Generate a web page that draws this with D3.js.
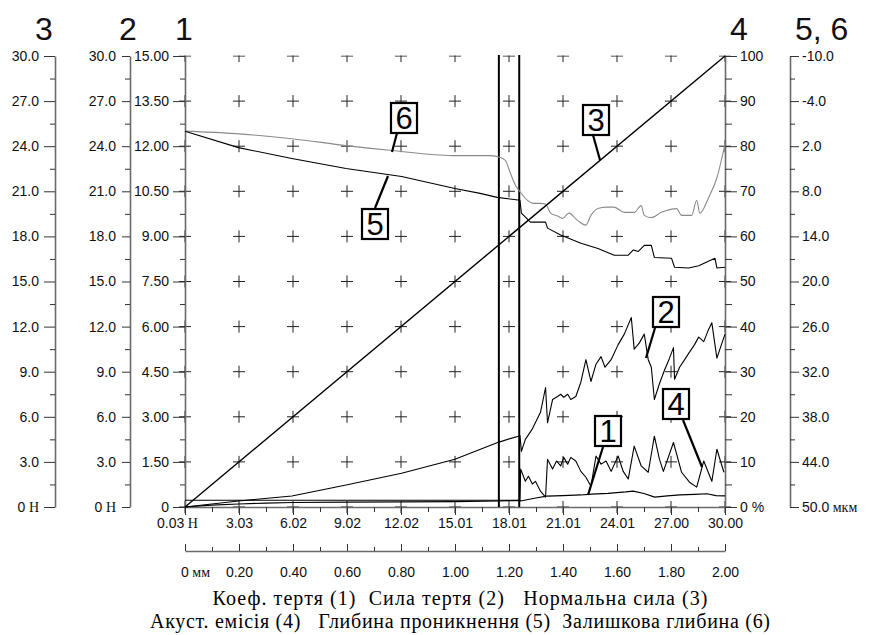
<!DOCTYPE html>
<html><head><meta charset="utf-8">
<script src="https://cdn.jsdelivr.net/npm/d3@7"></script>
<style>body{margin:0;background:#fff}svg{display:block}</style>
</head><body><svg id="c" width="870" height="635"></svg>
<script>
// ---------- DATA (x = normal force, Н) ----------
const normalForce = [[0.03,0],[30,30]];
const frictionForce = [[0.03,0],[3.0,0.4],[5.96,0.73],[8.97,1.46],[12.05,2.25],[15.01,3.18],[17.42,4.3],[18.08,4.55],[18.53,4.7],[18.62,4.75],[18.7,3.7],[18.92,4.5],[19.31,5.2],[19.76,6.3],[20.04,7.95],[20.15,5.6],[20.43,7.15],[20.71,7.35],[20.88,7.5],[21.05,7.3],[21.27,7.5],[21.44,7.15],[21.72,7.35],[22.0,8.3],[22.28,9.8],[22.56,8.35],[22.84,9.5],[23.12,10.0],[23.34,9.3],[23.68,9.8],[24.07,10.8],[24.41,11.5],[24.8,12.6],[24.96,10.5],[25.24,10.9],[25.52,11.5],[25.74,9.8],[25.91,9.3],[26.08,7.15],[26.36,8.2],[26.64,9.1],[26.92,9.9],[27.14,10.6],[27.2,8.5],[27.48,9.3],[27.76,9.8],[28.03,10.3],[28.31,10.8],[28.54,11.3],[28.82,11.0],[29.05,11.7],[29.27,12.25],[29.55,9.9],[29.83,10.9],[30.0,11.5]];
const frictionCoef = [[0.03,0],[1.5,0.06],[3.0,0.1],[4.5,0.13],[6.0,0.15],[9.0,0.16],[12.0,0.17],[15.0,0.18],[17.5,0.2],[18.6,0.22],[18.66,0.2],[19.5,0.3],[20.1,0.36],[21.0,0.38],[22.0,0.4],[22.6,0.43],[23.5,0.45],[24.5,0.5],[24.9,0.53],[25.5,0.45],[26.1,0.33],[26.8,0.37],[27.5,0.4],[28.3,0.42],[29.0,0.44],[29.5,0.38],[30.0,0.37]];
const acousticEmission = [[0.03,1.5],[18.62,1.5],[18.66,8.4],[18.92,5.7],[19.09,6.8],[19.31,5.1],[19.48,5.7],[19.76,3.5],[20.04,2.2],[20.15,10.6],[20.43,8.4],[20.65,10.2],[20.88,9.1],[21.05,11.0],[21.27,9.5],[21.44,11.0],[21.72,10.2],[22.0,7.9],[22.28,6.6],[22.56,4.6],[22.84,11.3],[23.12,9.5],[23.4,10.2],[23.68,7.9],[24.07,11.3],[24.35,7.9],[24.63,6.2],[24.96,13.5],[25.35,9.1],[25.74,7.7],[26.08,15.7],[26.36,10.6],[26.58,7.9],[27.14,14.3],[27.59,7.7],[28.03,5.5],[28.43,4.4],[28.82,10.2],[29.27,5.7],[29.55,12.8],[29.94,7.7]];
const penetrationDepth = [[0.03,0],[3.0,2.19],[5.96,3.64],[8.97,4.97],[12.05,6.03],[15.01,7.62],[16.41,8.28],[17.36,8.81],[18.62,9.2],[18.7,10.9],[19.2,12.1],[20.04,12.1],[20.15,12.9],[20.88,13.8],[22.0,14.9],[22.95,15.6],[23.85,16.5],[24.63,16.5],[24.91,15.8],[25.19,16.0],[25.52,15.2],[25.91,15.2],[26.08,16.8],[27.03,16.9],[27.2,18.1],[27.98,18.2],[28.54,17.9],[29.44,16.9],[29.55,18.2],[30.0,18.1]];
const residualDepth = [[0.03,0],[2.83,0.33],[5.96,1.0],[8.97,1.92],[11.54,2.58],[14.9,3.25],[16.97,3.25],[17.53,3.5],[17.81,3.9],[18.09,5.6],[18.37,7.2],[18.64,8.1],[19.04,9.2],[19.37,9.6],[19.76,9.6],[20.04,9.7],[20.32,10.9],[20.71,11.3],[20.99,11.6],[21.33,10.9],[21.83,11.9],[22.28,12.5],[22.56,11.2],[22.95,10.3],[23.4,10.1],[23.85,10.1],[24.41,10.8],[24.96,10.8],[25.35,9.9],[25.52,11.2],[25.91,11.5],[26.47,10.8],[27.31,10.3],[27.59,11.2],[28.15,11.2],[28.43,9.2],[28.6,10.9],[29.1,8.8],[29.55,6.2],[30.0,1.7]];
const markers = [17.45, 18.58];

const xTickLabels = ["0.03","3.03","6.02","9.02","12.02","15.01","18.01","21.01","24.01","27.00","30.00"];
const mmTickLabels = ["0","0.20","0.40","0.60","0.80","1.00","1.20","1.40","1.60","1.80","2.00"];
const axis1Labels = ["0","1.50","3.00","4.50","6.00","7.50","9.00","10.50","12.00","13.50","15.00"];
const axis2Labels = ["0","3.0","6.0","9.0","12.0","15.0","18.0","21.0","24.0","27.0","30.0"];
const axis3Labels = ["0","3.0","6.0","9.0","12.0","15.0","18.0","21.0","24.0","27.0","30.0"];
const axis4Labels = ["0","10","20","30","40","50","60","70","80","90","100"];
const axis56Labels = ["-10.0","-4.0","2.0","8.0","14.0","20.0","26.0","32.0","38.0","44.0","50.0"];
const axisTitles = ["3","2","1","4","5, 6"];
const legendLines = ["Коеф. тертя (1)  Сила тертя (2)   Нормальна сила (3)",
                     "Акуст. емісія (4)   Глибина проникнення (5)  Залишкова глибина (6)"];

// ---------- LAYOUT ----------
const L=185, R=725, T=56, B=507;
const svg = d3.select("#c");
const sans = "'Liberation Sans', Arial, sans-serif";
const serif = "'Liberation Serif', 'Times New Roman', serif";

const x = d3.scaleLinear().domain([0.03,30]).range([L,R]);
const xmm = d3.scaleLinear().domain([0,2]).range([L,R]);
const y1 = d3.scaleLinear().domain([0,15]).range([B,T]);
const y2 = d3.scaleLinear().domain([0,30]).range([B,T]);
const y3 = d3.scaleLinear().domain([0,30]).range([B,T]);
const y4 = d3.scaleLinear().domain([0,100]).range([B,T]);
const y56 = d3.scaleLinear().domain([-10,50]).range([T,B]);

const xTicks = d3.range(11).map(i=>0.03+i*29.97/10);
const xMinor = d3.range(10).map(i=>0.03+(i+0.5)*29.97/10);
const mmTicks = d3.range(11).map(i=>i*0.2);
const mmMinor = d3.range(10).map(i=>i*0.2+0.1);
const t1 = d3.range(11).map(i=>i*1.5), t1m = d3.range(10).map(i=>i*1.5+0.75);
const t2 = d3.range(11).map(i=>i*3), t2m = d3.range(10).map(i=>i*3+1.5);
const t4 = d3.range(11).map(i=>i*10), t4m = d3.range(10).map(i=>i*10+5);
const t56 = d3.range(11).map(i=>-10+i*6), t56m = d3.range(10).map(i=>-7+i*6);

function styleAxis(g){
  g.select(".domain").attr("stroke","#6a6a6a").attr("stroke-width",1.6);
  g.selectAll(".tick line").attr("stroke","#333").attr("stroke-width",1);
  g.selectAll("text").attr("font-family",sans).attr("font-size",14).attr("fill","#111");
}
function unitLabel(g, unit){
  g.selectAll(".tick text").filter((d,i)=>i===0).each(function(){
    const t=d3.select(this); const n=t.text(); t.text(null);
    t.append("tspan").text(n);
    t.append("tspan").attr("font-family",serif).attr("font-size",14).text(unit);
  });
}
function minorAxis(gen, pos, vals, size){
  const g = svg.append("g").attr("transform",pos)
    .call(gen.tickValues(vals).tickFormat("").tickSizeInner(size).tickSizeOuter(0));
  g.select(".domain").remove();
  g.selectAll(".tick line").attr("stroke","#333");
}

// grid plus marks
svg.append("defs").append("clipPath").attr("id","pc")
  .append("rect").attr("x",0).attr("y",T-0.5).attr("width",870).attr("height",B-T+20);
const grid = svg.append("g").attr("clip-path","url(#pc)").attr("stroke","#222").attr("stroke-width",1);
xTicks.forEach(xv=>t1.forEach(yv=>{
  const px=x(xv), py=y1(yv);
  grid.append("line").attr("x1",px-6).attr("x2",px+6).attr("y1",py).attr("y2",py);
  grid.append("line").attr("x1",px).attr("x2",px).attr("y1",py-6).attr("y2",py+6);
}));

// left axes
let g3 = svg.append("g").attr("transform",`translate(55,0)`)
  .call(d3.axisLeft(y3).tickValues(t2).tickFormat((d,i)=>axis3Labels[i]).tickSizeInner(11).tickSizeOuter(0).tickPadding(5));
styleAxis(g3); unitLabel(g3," Н");
minorAxis(d3.axisLeft(y3),`translate(55,0)`,t2m,5);

let g2 = svg.append("g").attr("transform",`translate(130,0)`)
  .call(d3.axisLeft(y2).tickValues(t2).tickFormat((d,i)=>axis2Labels[i]).tickSizeInner(8).tickSizeOuter(0).tickPadding(6));
styleAxis(g2); unitLabel(g2," Н");
minorAxis(d3.axisLeft(y2),`translate(130,0)`,t2m,5);

let g1 = svg.append("g").attr("transform",`translate(${L},0)`)
  .call(d3.axisLeft(y1).tickValues(t1).tickFormat((d,i)=>axis1Labels[i]).tickSizeInner(12).tickSizeOuter(0).tickPadding(4));
styleAxis(g1);
minorAxis(d3.axisLeft(y1),`translate(${L},0)`,t1m,5);

// right axes
let g4 = svg.append("g").attr("transform",`translate(${R},0)`)
  .call(d3.axisRight(y4).tickValues(t4).tickFormat((d,i)=>axis4Labels[i]).tickSizeInner(12).tickSizeOuter(0).tickPadding(3));
styleAxis(g4); unitLabel(g4," %");
g4.selectAll(".tick text").filter((d,i)=>i===0).selectAll("tspan").attr("font-family",sans);
minorAxis(d3.axisRight(y4),`translate(${R},0)`,t4m,7);

let g56 = svg.append("g").attr("transform",`translate(790,0)`)
  .call(d3.axisRight(y56).tickValues(t56).tickFormat((d,i)=>axis56Labels[i]).tickSizeInner(9).tickSizeOuter(0).tickPadding(3));
styleAxis(g56);
g56.selectAll(".tick text").filter((d,i)=>i===10).each(function(){
  const t=d3.select(this); const n=t.text(); t.text(null);
  t.append("tspan").text(n);
  t.append("tspan").attr("font-family",serif).attr("font-size",14).text(" мкм");
});
minorAxis(d3.axisRight(y56),`translate(790,0)`,t56m,5);

// bottom axes
let gx = svg.append("g").attr("transform",`translate(0,${B})`)
  .call(d3.axisBottom(x).tickValues(xTicks).tickFormat((d,i)=>xTickLabels[i]).tickSizeInner(8).tickSizeOuter(0).tickPadding(3));
styleAxis(gx); unitLabel(gx," Н");
gx.selectAll(".tick text").filter((d,i)=>i===0).attr("dx",-8);
minorAxis(d3.axisBottom(x),`translate(0,${B})`,xMinor,5);

let gmm = svg.append("g").attr("transform",`translate(0,551)`)
  .call(d3.axisBottom(xmm).tickValues(mmTicks).tickFormat((d,i)=>mmTickLabels[i]).tickSizeInner(-7).tickSizeOuter(0).tickPadding(16));
styleAxis(gmm); unitLabel(gmm," мм");
gmm.selectAll(".tick text").filter((d,i)=>i===0).attr("dx",10);
minorAxis(d3.axisBottom(xmm),`translate(0,551)`,mmMinor,-4);

// axis titles
const titlePos = [[44,"middle"],[128,"middle"],[184,"middle"],[739,"middle"],[795,"start"]];
axisTitles.forEach((t,i)=>svg.append("text").attr("x",titlePos[i][0]).attr("y",40)
  .attr("text-anchor",titlePos[i][1]).attr("font-family",sans).attr("font-size",32).attr("fill","#111").text(t));

// marker vertical lines
markers.forEach(m=>svg.append("line").attr("x1",x(m)).attr("x2",x(m)).attr("y1",T-1).attr("y2",B)
  .attr("stroke","#000").attr("stroke-width",2));

// curves
function drawLine(data, ys, color, w, curve){
  svg.append("path").datum(data)
    .attr("d", d3.line().x(d=>x(d[0])).y(d=>ys(d[1])).curve(curve||d3.curveLinear))
    .attr("fill","none").attr("stroke",color).attr("stroke-width",w).attr("stroke-linejoin","round");
}
drawLine(residualDepth, y56, "#8a8a8a", 1.1, d3.curveMonotoneX);
drawLine(penetrationDepth, y56, "#000", 1.1);
drawLine(normalForce, y3, "#000", 1.4);
drawLine(frictionForce, y2, "#000", 1.1);
drawLine(acousticEmission, y4, "#000", 1.1);
drawLine(frictionCoef, y1, "#000", 1.2);

// callouts: [label, boxCenterX, boxCenterY, fromX, fromY, toX, toY]
const callouts = [
  ["6",404,118,397,133,392,152],
  ["5",375,224,375,208,388,176],
  ["3",596,120,593,135,600,160],
  ["2",666,312,655,328,646,358],
  ["4",676,404,683,420,702,467],
  ["1",608,431,603,447,588,495]
];
callouts.forEach(c=>{
  svg.append("line").attr("x1",c[3]).attr("y1",c[4]).attr("x2",c[5]).attr("y2",c[6])
    .attr("stroke","#000").attr("stroke-width",2.2);
  svg.append("rect").attr("x",c[1]-13).attr("y",c[2]-15).attr("width",26).attr("height",30)
    .attr("fill","#fff").attr("stroke","#000").attr("stroke-width",2.2);
  svg.append("text").attr("x",c[1]).attr("y",c[2]+11).attr("text-anchor","middle")
    .attr("font-family",sans).attr("font-size",31).attr("fill","#000").text(c[0]);
});

// legend
const legendWidths = [495, 620];
legendLines.forEach((t,i)=>svg.append("text").attr("x",460).attr("y",605+i*22.5)
  .attr("text-anchor","middle").attr("font-family",serif).attr("font-size",20)
  .attr("textLength",legendWidths[i]).attr("lengthAdjust","spacing")
  .attr("fill","#000").style("white-space","pre").text(t));
</script></body></html>
